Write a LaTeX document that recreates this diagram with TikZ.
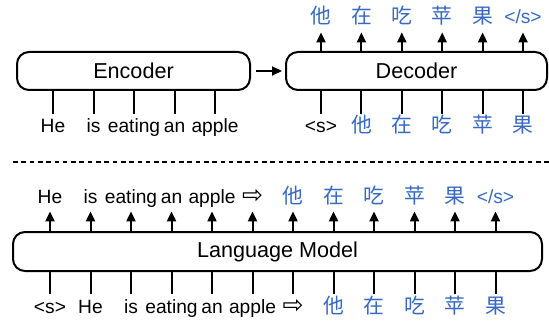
\documentclass[tikz,border=0pt]{standalone}
\usepackage{fontspec}
\setmainfont{Liberation Sans}
\newfontfamily\cjk{Noto Sans CJK SC}
\newfontfamily\dvfont{DejaVu Sans}
\usepackage{xcolor}
\usepackage{tikz}
\usetikzlibrary{arrows.meta,positioning}

\definecolor{zhblue}{RGB}{55,105,195}
\newcommand{\zh}[1]{{\color{zhblue}\fontsize{10.4}{12}\cjk #1}}
\newcommand{\eos}{{\color{zhblue}</s>}}
\newcommand{\rarr}{{\fontsize{12.5}{12}\dvfont ⇨}}

\begin{document}
\begin{tikzpicture}[x=0.5pt, y=-0.5pt,
                    lm block/.style={rectangle, draw, line width=1pt, rounded corners=6pt, minimum height=19pt, inner sep=0pt, font=\fontsize{10.8}{12}\selectfont},
                    lm tok/.style={anchor=base, inner sep=2pt, text height=7.5pt, text depth=2pt, font=\fontsize{9.6}{12}\selectfont},
                    lm line/.style={line width=1pt},
                    lm arrow/.style={-{Triangle[width=4.5pt,length=5pt]}, line width=1pt}]

    \useasboundingbox (0,0) rectangle (549,320);

    % encoder-decoder
    \node [lm block, minimum width=116.5pt] (enc) at (133.5,71) {Encoder};
    \node [lm block, minimum width=130.5pt] (dec) at (416.5,71) {Decoder};
    \draw [lm arrow, shorten <=2.5pt, shorten >=1.5pt] (enc) -- (dec);

    \foreach \w [count=\i] in {He,is,eating,an,apple} {
        \node [lm tok] (e\i) at ({53+40.5*(\i-1)},133) {\w};
        \draw [lm line] (e\i.north) -- (e\i.north |- enc.south);
    }
    \foreach \w [count=\i] in {<s>,\zh{他},\zh{在},\zh{吃},\zh{苹},\zh{果}} {
        \node [lm tok] (di\i) at ({321+40.4*(\i-1)},133) {\w};
        \draw [lm line] (di\i.north) -- (di\i.north |- dec.south);
    }
    \foreach \w [count=\i] in {\zh{他},\zh{在},\zh{吃},\zh{苹},\zh{果},\eos} {
        \node [lm tok] (do\i) at ({321+40.4*(\i-1)},24) {\w};
        \draw [lm arrow] (do\i.south |- dec.north) -- (do\i.south);
    }

    \draw [line width=1pt, dash pattern=on 2.3pt off 1.85pt] (13,162) -- (549,162);

    % language model
    \node [lm block, minimum width=264.5pt, minimum height=19.5pt] (lm) at (277.5,251.5) {Language Model};

    \foreach \w [count=\i] in {He,is,eating,an,apple,\rarr,\zh{他},\zh{在},\zh{吃},\zh{苹},\zh{果},\eos} {
        \node [lm tok] (lo\i) at ({50+40.5*(\i-1)},203) {\w};
        \draw [lm arrow] (lo\i.south |- lm.north) -- (lo\i.south);
    }
    \foreach \w [count=\i] in {<s>,He,is,eating,an,apple,\rarr,\zh{他},\zh{在},\zh{吃},\zh{苹},\zh{果}} {
        \node [lm tok] (li\i) at ({50+40.5*(\i-1)},313) {\w};
        \draw [lm line] (li\i.north) -- (li\i.north |- lm.south);
    }

\end{tikzpicture}
\end{document}
